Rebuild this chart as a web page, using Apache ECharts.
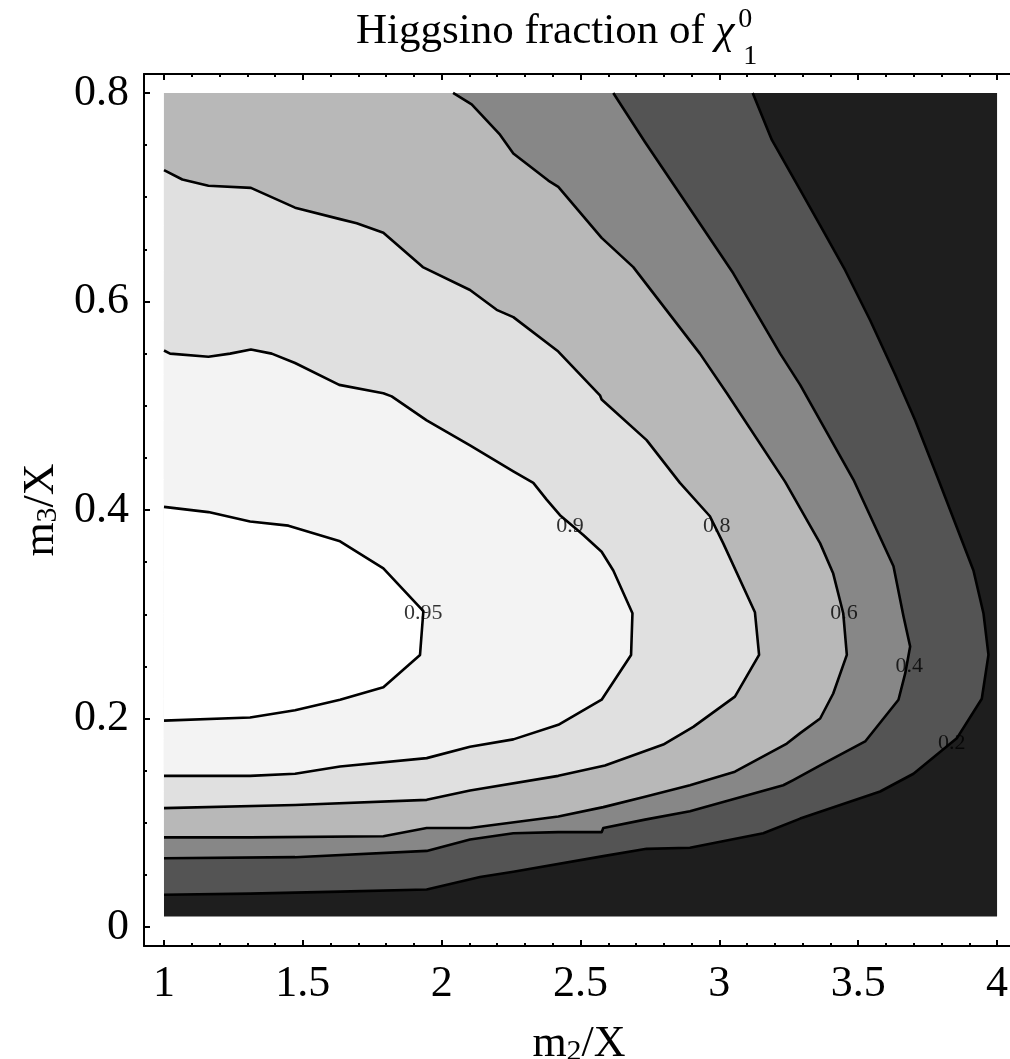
<!DOCTYPE html>
<html>
<head>
<meta charset="utf-8">
<script src="https://cdn.jsdelivr.net/npm/echarts@6/dist/echarts.min.js"></script>
<style>
  html, body { margin: 0; padding: 0; background: #ffffff; overflow: hidden; }
  #chart { width: 1010px; height: 1059px; }
</style>
</head>
<body>
<div id="chart"></div>
<script>
// Sampled domain of the scan
const m2Range = [1, 4];
const m3Range = [0.01, 0.8];

// Contour levels, and band fills from the lowest band (< 0.2) to the highest (> 0.95)
const levels = ['0.2', '0.4', '0.6', '0.8', '0.9', '0.95'];
const bandColors = ['#1e1e1e', '#545454', '#878787', '#b8b8b8', '#e0e0e0', '#f3f3f3', '#ffffff'];

// Contour polylines as [m2/X, m3/X]
const c020 = [[3.120,0.800],[3.189,0.755],[3.291,0.707],[3.363,0.673],[3.453,0.630],[3.543,0.582],[3.633,0.530],[3.705,0.486],[3.789,0.429],[3.915,0.342],[3.951,0.301],[3.969,0.261],[3.945,0.219],[3.855,0.181],[3.699,0.147],[3.579,0.130],[3.291,0.104],[3.158,0.090],[2.894,0.076],[2.738,0.075],[2.582,0.068],[2.258,0.053],[2.138,0.048],[1.946,0.036],[1.634,0.034],[1.310,0.032],[1.000,0.031]];
const c040 = [[2.618,0.800],[2.732,0.753],[2.894,0.689],[3.050,0.627],[3.219,0.550],[3.291,0.520],[3.483,0.429],[3.627,0.346],[3.663,0.298],[3.687,0.269],[3.669,0.243],[3.645,0.218],[3.525,0.178],[3.363,0.155],[3.266,0.141],[3.230,0.136],[2.894,0.111],[2.732,0.103],[2.582,0.095],[2.576,0.091],[2.420,0.091],[2.258,0.090],[2.102,0.084],[1.946,0.073],[1.472,0.067],[1.000,0.066]];
const c060 = [[2.041,0.800],[2.108,0.789],[2.210,0.760],[2.258,0.742],[2.384,0.716],[2.420,0.710],[2.576,0.661],[2.690,0.633],[2.930,0.550],[3.027,0.512],[3.237,0.427],[3.363,0.368],[3.410,0.339],[3.446,0.301],[3.459,0.261],[3.410,0.224],[3.363,0.200],[3.291,0.186],[3.243,0.176],[3.056,0.149],[2.894,0.136],[2.732,0.125],[2.582,0.115],[2.420,0.106],[2.102,0.095],[1.946,0.095],[1.790,0.087],[1.310,0.086],[1.000,0.086]];
const c080 = [[1.000,0.726],[1.066,0.717],[1.160,0.711],[1.313,0.709],[1.472,0.690],[1.634,0.679],[1.694,0.675],[1.790,0.666],[1.932,0.633],[2.102,0.611],[2.198,0.592],[2.258,0.585],[2.420,0.552],[2.570,0.510],[2.576,0.506],[2.738,0.467],[2.858,0.426],[2.966,0.394],[3.014,0.368],[3.128,0.302],[3.143,0.261],[3.056,0.221],[2.906,0.192],[2.798,0.175],[2.588,0.155],[2.420,0.145],[2.102,0.131],[1.946,0.122],[1.472,0.117],[1.000,0.114]];
const c090 = [[1.000,0.553],[1.022,0.550],[1.160,0.547],[1.238,0.550],[1.313,0.554],[1.388,0.550],[1.472,0.541],[1.631,0.520],[1.790,0.512],[1.820,0.509],[1.946,0.486],[2.102,0.462],[2.258,0.437],[2.330,0.426],[2.378,0.410],[2.426,0.395],[2.510,0.376],[2.576,0.360],[2.618,0.342],[2.687,0.301],[2.682,0.261],[2.576,0.218],[2.420,0.194],[2.258,0.180],[2.102,0.173],[1.946,0.162],[1.634,0.154],[1.472,0.147],[1.310,0.145],[1.000,0.145]];
const c095 = [[1.000,0.403],[1.160,0.398],[1.310,0.389],[1.448,0.385],[1.634,0.370],[1.790,0.344],[1.934,0.303],[1.922,0.261],[1.790,0.230],[1.634,0.218],[1.472,0.208],[1.310,0.201],[1.000,0.198]];

// Where each contour carries its value label
const labelPos = [[3.837,0.176],[3.684,0.250],[3.449,0.301],[2.991,0.384],[2.462,0.384],[1.934,0.301]];

// Axis ticks
const xMajor = [1, 1.5, 2, 2.5, 3, 3.5, 4];
const xMinor = [1.1,1.2,1.3,1.4,1.6,1.7,1.8,1.9,2.1,2.2,2.3,2.4,2.6,2.7,2.8,2.9,3.1,3.2,3.3,3.4,3.6,3.7,3.8,3.9];
const yMajor = [0, 0.2, 0.4, 0.6, 0.8];
const yMinor = [0.05,0.1,0.15,0.25,0.3,0.35,0.45,0.5,0.55,0.65,0.7,0.75];

// Texts
const titleMain = 'Higgsino fraction of ';
const titleSym = 'χ';
const titleSup = '0';
const titleSub = '1';

const serif = '"Liberation Serif", "Times New Roman", Times, serif';
const contours = [c020, c040, c060, c080, c090, c095];

// Filled region above each level: open contours are closed along the left and top edges
const corner = [m2Range[0], m3Range[1]];
const regionPolys = [
  [[m2Range[0], m3Range[0]], [m2Range[1], m3Range[0]], [m2Range[1], m3Range[1]], [m2Range[0], m3Range[1]]],
  [corner].concat(c020),
  [corner].concat(c040),
  [corner].concat(c060),
  c080,
  c090,
  c095
];

const X_MIN = 0.928, X_MAX = 4.061, Y_MIN = -0.0182, Y_MAX = 0.8182;
const gridBox = { left: 144, top: 74, width: 870, height: 872, containLabel: false, outerBoundsMode: 'none' };

function xTickAxis(grid, pos, values, len, withLine, labels) {
  return {
    type: 'value', gridIndex: grid, position: pos, min: X_MIN, max: X_MAX,
    axisLine: { show: withLine, onZero: false, lineStyle: { color: '#000', width: 2 } },
    axisTick: { show: true, inside: true, length: len, customValues: values, lineStyle: { color: '#000', width: 2 } },
    axisLabel: labels ? { show: true, customValues: values, margin: 16, color: '#000', fontSize: 44, fontFamily: serif } : { show: false },
    splitLine: { show: false }
  };
}
function yTickAxis(grid, values, len, withLine, labels) {
  return {
    type: 'value', gridIndex: grid, position: 'left', min: Y_MIN, max: Y_MAX,
    axisLine: { show: withLine, onZero: false, lineStyle: { color: '#000', width: 2 } },
    axisTick: { show: true, inside: true, length: len, customValues: values, lineStyle: { color: '#000', width: 2 } },
    axisLabel: labels ? { show: true, customValues: values, margin: 15, color: '#000', fontSize: 44, fontFamily: serif } : { show: false },
    splitLine: { show: false }
  };
}

const nameRich = {
  a: { fontSize: 44, lineHeight: 44, fontFamily: serif, color: '#000' },
  s: { fontSize: 30, lineHeight: 30, fontFamily: serif, color: '#000', verticalAlign: 'bottom', padding: [26, 0, 0, 0] }
};

// grid 0: frame, major ticks, labels and the plot; grid 1 (same box): minor ticks only
const xAxes = [
  xTickAxis(0, 'bottom', xMajor, 6, true, true),
  xTickAxis(0, 'top', xMajor, 6, true, false),
  xTickAxis(1, 'bottom', xMinor, 3, false, false),
  xTickAxis(1, 'top', xMinor, 3, false, false)
];
Object.assign(xAxes[0], {
  name: '{a|m}{s|2}{a|/X}', nameLocation: 'middle', nameGap: 52,
  nameTextStyle: { rich: nameRich }
});
const yAxes = [
  yTickAxis(0, yMajor, 6, true, true),
  yTickAxis(1, yMinor, 3, false, false)
];
Object.assign(yAxes[0], {
  name: '{a|m}{s|3}{a|/X}', nameLocation: 'middle', nameGap: 78,
  nameTextStyle: { rich: nameRich }
});

// Title pieces laid out from measured widths
function titleElements() {
  const ctx = document.createElement('canvas').getContext('2d');
  const fsMain = 43, fsSmall = 28;
  const fMain = fsMain + 'px ' + serif, fSym = 'italic ' + fsMain + 'px ' + serif, fSmall = fsSmall + 'px ' + serif;
  ctx.font = fMain;
  const w1 = ctx.measureText(titleMain).width;
  ctx.font = fSym;
  const w2 = ctx.measureText(titleSym).width;
  ctx.font = fSmall;
  const w3 = ctx.measureText(titleSup).width;
  const x0 = 356, base = 46;
  const mid = (b, fs) => b - 0.3375 * fs;
  const mk = (x, y, text, font) => ({
    type: 'text', x: x, y: y, silent: true,
    style: { text: text, font: font, fill: '#000', align: 'left', verticalAlign: 'middle', textAlign: 'left', textVerticalAlign: 'middle' }
  });
  return [
    mk(x0, mid(base, fsMain), titleMain, fMain),
    mk(x0 + w1, mid(base, fsMain), titleSym, fSym),
    mk(x0 + w1 + w2 + 4, mid(base - 17, fsSmall), titleSup, fSmall),
    mk(x0 + w1 + w2 + 4 + w3 * 0.35, mid(base + 20, fsSmall), titleSub, fSmall)
  ];
}

// The frame is open on the right: keep the strip beyond the plot blank
const rightStrip = {
  type: 'rect', silent: true, z: 100,
  shape: { x: 1003, y: 76, width: 20, height: 868 },
  style: { fill: '#ffffff' }
};

const series = [
  {
    type: 'custom', name: 'bands', coordinateSystem: 'cartesian2d', xAxisIndex: 0, yAxisIndex: 0,
    silent: true, z: 1,
    data: regionPolys.map((p, i) => [p[0][0], p[0][1], i]),
    encode: { x: 0, y: 1 },
    renderItem: function (params, api) {
      const i = api.value(2);
      const pts = regionPolys[i].map(p => api.coord(p));
      return { type: 'polygon', shape: { points: pts }, style: { fill: bandColors[i], stroke: null } };
    }
  }
];
contours.forEach((c, i) => {
  series.push({
    type: 'line', name: 'level ' + levels[i], data: c, xAxisIndex: 0, yAxisIndex: 0,
    symbol: 'none', silent: true, z: 3, smooth: false,
    lineStyle: { color: '#000', width: 2.6, join: 'round' }
  });
});
series.push({
  type: 'scatter', name: 'level labels', xAxisIndex: 0, yAxisIndex: 0, z: 4, silent: true,
  symbolSize: 1, itemStyle: { color: 'rgba(0,0,0,0)' },
  data: labelPos.map((p, i) => [p[0], p[1], levels[i]]),
  label: {
    show: true, position: 'inside', formatter: p => p.value[2],
    color: '#000', fontSize: 22, fontFamily: serif
  }
});

const chart = echarts.init(document.getElementById('chart'), null, { renderer: 'canvas' });
chart.setOption({
  animation: false,
  backgroundColor: '#ffffff',
  grid: [Object.assign({}, gridBox), Object.assign({}, gridBox)],
  xAxis: xAxes,
  yAxis: yAxes,
  graphic: titleElements().concat([rightStrip]),
  series: series
});
</script>
</body>
</html>
